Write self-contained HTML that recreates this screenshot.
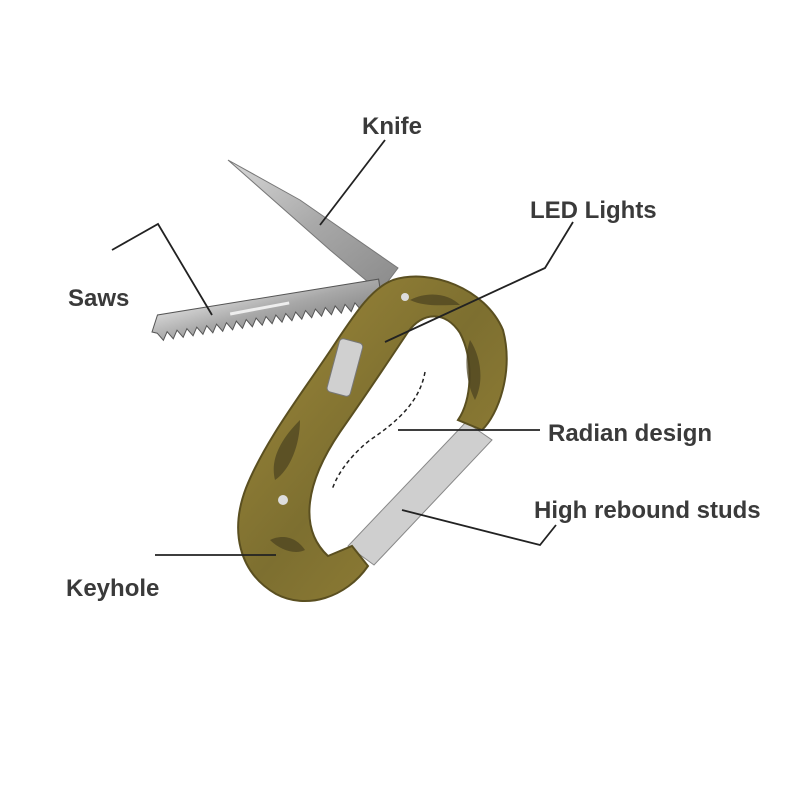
<!DOCTYPE html>
<html><head><meta charset="utf-8"><style>
html,body{margin:0;padding:0;background:#fff;}
.wrap{position:relative;width:800px;height:800px;overflow:hidden;background:#fff;}
.lbl{position:absolute;font-family:"Liberation Sans",sans-serif;font-weight:bold;font-size:24px;color:#3a3a3a;white-space:nowrap;}
</style></head><body><div class="wrap">
<svg width="800" height="800" viewBox="0 0 800 800" style="position:absolute;left:0;top:0">
<defs>
<linearGradient id="blade" x1="0" y1="0" x2="1" y2="1">
<stop offset="0" stop-color="#d8d8d8"/><stop offset="0.5" stop-color="#a8a8a8"/><stop offset="1" stop-color="#8a8a8a"/></linearGradient>
<linearGradient id="camo" x1="0" y1="0" x2="1" y2="1">
<stop offset="0" stop-color="#a08a3a"/><stop offset="0.5" stop-color="#7d6f30"/><stop offset="1" stop-color="#9a8538"/></linearGradient>
</defs>
<!-- knife blade -->
<path d="M228,160 L300,200 L398,268 L380,292 L330,250 Z" fill="url(#blade)" stroke="#777" stroke-width="1"/>
<!-- saw blade -->
<g transform="translate(152,332) rotate(-8.7)">
<path d="M0,0 L8,-16 L232,-18 L232,2 L225,2 L220,10 L215,2 L210,10 L205,2 L200,10 L195,2 L190,10 L185,2 L180,10 L175,2 L170,10 L165,2 L160,10 L155,2 L150,10 L145,2 L140,10 L135,2 L130,10 L125,2 L120,10 L115,2 L110,10 L105,2 L100,10 L95,2 L90,10 L85,2 L80,10 L75,2 L70,10 L65,2 L60,10 L55,2 L50,10 L45,2 L40,10 L35,2 L30,10 L25,2 L20,10 L15,2 L10,10 L5,2 Z" fill="url(#blade)" stroke="#555" stroke-width="1"/>
<path d="M80,-6 L140,-8" stroke="#eee" stroke-width="3"/>
</g>
<!-- gate (silver) -->
<path d="M466,422 L492,440 L374,565 L348,546 Z" fill="#cfcfcf" stroke="#888"/>
<!-- carabiner body -->
<path d="M393,280 C430,268 485,288 503,330 C514,372 498,415 482,430 L458,420 C472,400 474,360 460,333 C445,310 422,312 408,332 C388,362 364,398 340,432 C306,482 298,528 328,556 L352,546 L368,566 C346,598 306,610 276,594 C238,572 230,530 246,488 C266,438 306,388 336,342 C356,312 372,288 393,280 Z" fill="url(#camo)" stroke="#5a4f20" stroke-width="2"/>
<path d="M470,340 c10,15 15,40 5,60 c-8,-15 -12,-40 -5,-60z M300,420 c-20,20 -30,40 -25,60 c15,-10 25,-35 25,-60z M270,540 c10,10 25,15 35,10 c-10,-15 -25,-15 -35,-10z M410,300 c20,-10 40,-5 50,5 c-20,0 -35,2 -50,-5z" fill="#4a4220" opacity="0.7"/>
<!-- LED -->
<rect x="333" y="340" width="24" height="55" rx="4" fill="#d0d0d0" stroke="#777" transform="rotate(15 345 367)"/>
<circle cx="405" cy="297" r="4" fill="#ddd"/><circle cx="283" cy="500" r="5" fill="#ddd"/>
<!-- dashed radian -->
<path d="M425,372 C420,400 400,420 370,440 C345,460 335,480 332,490" fill="none" stroke="#222" stroke-width="1.5" stroke-dasharray="4,3"/>
<!-- leader lines -->
<g stroke="#222" stroke-width="1.8" fill="none">
<path d="M385,140 L320,225"/>
<path d="M573,222 L545,268 L385,342"/>
<path d="M112,250 L158,224 L212,315"/>
<path d="M398,430 L540,430"/>
<path d="M402,510 L540,545 L556,525"/>
<path d="M155,555 L276,555"/>
</g>
</svg>
<div class="lbl" style="left:362px;top:113px">Knife</div>
<div class="lbl" style="left:530px;top:197px">LED Lights</div>
<div class="lbl" style="left:68px;top:285px">Saws</div>
<div class="lbl" style="left:548px;top:420px">Radian design</div>
<div class="lbl" style="left:534px;top:497px">High rebound studs</div>
<div class="lbl" style="left:66px;top:575px">Keyhole</div>
</div></body></html>
